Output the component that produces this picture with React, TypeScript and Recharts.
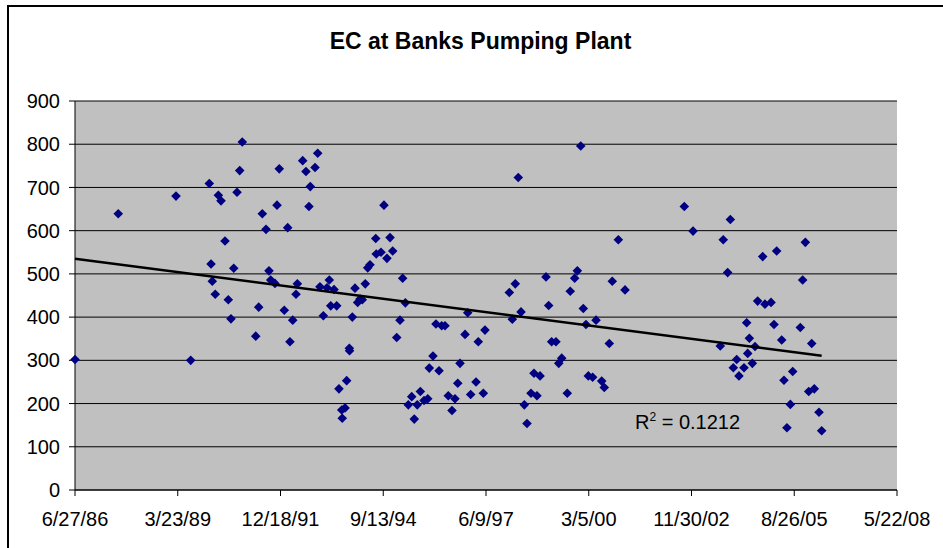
import { ScatterChart, Scatter, XAxis, YAxis, CartesianGrid } from "recharts"

// sample dates as Excel day serials (31590 = 6/27/86)
const sampleDates = [
  31590, 32011, 32573, 32716, 32897, 32914, 32926, 32955, 32985, 33011,
  33050, 33082, 33108, 33135, 33167, 33193, 33218, 33349, 33378, 33413,
  33449, 33478, 33495, 33536, 33556, 33578, 33627, 33660, 33682, 33709,
  33741, 33754, 33806, 33838, 33867, 33880, 33926, 33952, 33974, 34007,
  34043, 34065, 34079, 34111, 34137, 34159, 34186, 34191, 34218, 34234,
  34260, 34262, 34289, 34315, 34341, 34364, 34386, 34415, 34439, 34461,
  34517, 34522, 34568, 34597, 34626, 34656, 34682, 34721, 34753, 34779,
  34805, 34834, 34867, 34892, 34921, 34951, 34987, 35023, 35038, 35074,
  35103, 35133, 35159, 35191, 35223, 35259, 35288, 35315, 35337, 35386,
  35412, 35441, 35493, 35515, 35564, 35580, 35817, 35846, 35875, 35904,
  35931, 35963, 35989, 36028, 36057, 36086, 36116, 36174, 36200, 36229,
  36271, 36298, 36327, 36381, 36410, 36453, 36479, 36512, 36537, 36563,
  36586, 36628, 36661, 36716, 36741, 36790, 36819, 36878, 36943, 37520,
  37605, 37870, 37899, 37942, 37968, 37997, 38030, 38052, 38101, 38127,
  38137, 38153, 38182, 38208, 38234, 38283, 38305, 38364, 38393, 38419,
  38468, 38490, 38519, 38552, 38575, 38649, 38672, 38698, 38731, 38760,
  38785, 38831, 38857,
]

const ecValues = [
  302, 639, 680, 300, 709, 523, 483, 453, 682, 669,
  576, 440, 396, 513, 689, 739, 805, 356, 423, 639,
  603, 507, 486, 478, 659, 743, 416, 607, 343, 393,
  453, 477, 762, 737, 656, 702, 746, 779, 470, 403,
  468, 486, 426, 464, 426, 234, 185, 166, 190, 253,
  328, 322, 400, 467, 434, 442, 440, 477, 514, 521,
  582, 546, 550, 659, 536, 584, 553, 353, 393, 490,
  433, 197, 216, 164, 197, 228, 207, 211, 282, 310,
  384, 276, 380, 380, 218, 184, 211, 247, 293, 360,
  410, 221, 250, 343, 224, 370, 457, 395, 477, 723,
  412, 197, 154, 224, 270, 218, 264, 493, 427, 343,
  343, 293, 305, 224, 460, 490, 507, 796, 420, 383,
  264, 261, 393, 252, 237, 339, 483, 579, 463, 656,
  599, 333, 579, 503, 626, 283, 302, 264, 283, 387,
  316, 351, 293, 332, 437, 540, 430, 434, 383, 553,
  347, 254, 144, 198, 274, 376, 486, 573, 228, 339,
  234, 180, 137,
]

const xTicks = [31590, 32590, 33590, 34590, 35590, 36590, 37590, 38590, 39590]
const xTickLabels = ["6/27/86", "3/23/89", "12/18/91", "9/13/94", "6/9/97", "3/5/00", "11/30/02", "8/26/05", "5/22/08"]
const yTicks = [0, 100, 200, 300, 400, 500, 600, 700, 800, 900]

const points = sampleDates.map((d, i) => ({ date: d, ec: ecValues[i] }))

// linear least-squares trendline over the sample range
function trendline() {
  const n = points.length
  const mx = points.reduce((s, p) => s + p.date, 0) / n
  const my = points.reduce((s, p) => s + p.ec, 0) / n
  let sxy = 0
  let sxx = 0
  points.forEach((p) => {
    sxy += (p.date - mx) * (p.ec - my)
    sxx += (p.date - mx) * (p.date - mx)
  })
  const slope = sxy / sxx
  const x0 = Math.min(...sampleDates)
  const x1 = Math.max(...sampleDates)
  return [
    { date: x0, ec: my + slope * (x0 - mx) },
    { date: x1, ec: my + slope * (x1 - mx) },
  ]
}

const trend = trendline()

const FONT = "'Liberation Sans', Arial, sans-serif"

const Diamond = (props: any) => {
  const { cx, cy } = props
  const r = 4.8
  return (
    <polygon
      points={`${cx},${cy - r} ${cx + r},${cy} ${cx},${cy + r} ${cx - r},${cy}`}
      fill="#000080"
    />
  )
}

export default function App() {
  return (
    <div
      style={{
        position: "fixed",
        left: 0,
        top: 0,
        width: 943,
        height: 548,
        overflow: "hidden",
        background: "#fff",
        fontFamily: FONT,
      }}
    >
      <div style={{ position: "absolute", left: 7, top: 5, width: 1000, height: 1000, border: "2px solid #000" }} />
      <div
        style={{
          position: "absolute",
          left: 0,
          width: 961,
          top: 30,
          textAlign: "center",
          fontSize: 23,
          lineHeight: "23px",
          fontWeight: "bold",
          color: "#000",
        }}
      >
        EC at Banks Pumping Plant
      </div>
      <div style={{ position: "absolute", left: 0, top: 0 }}>
        <ScatterChart width={943} height={548} margin={{ top: 101, right: 46, bottom: 0, left: 0 }}>
          <CartesianGrid vertical={false} stroke="#000" fill="#C0C0C0" />
          <XAxis
            dataKey="date"
            type="number"
            domain={[31590, 39590]}
            ticks={xTicks}
            interval={0}
            tickFormatter={(v: number) => xTickLabels[xTicks.indexOf(v)]}
            tick={{ fill: "#000", fontSize: 20, fontFamily: FONT }}
            tickLine={{ stroke: "#000" }}
            axisLine={{ stroke: "#000" }}
            tickSize={6}
            tickMargin={16}
            height={58}
          />
          <XAxis
            xAxisId="top"
            orientation="top"
            type="number"
            domain={[31590, 39590]}
            tick={false}
            tickLine={false}
            axisLine={{ stroke: "#808080", strokeWidth: 2 }}
            height={0}
          />
          <YAxis
            dataKey="ec"
            type="number"
            domain={[0, 900]}
            ticks={yTicks}
            interval={0}
            tick={{ fill: "#000", fontSize: 20, fontFamily: FONT }}
            tickLine={{ stroke: "#000" }}
            axisLine={{ stroke: "#000" }}
            tickSize={6}
            tickMargin={9}
            width={75}
          />
          <YAxis
            yAxisId="right"
            orientation="right"
            type="number"
            domain={[0, 900]}
            tick={false}
            tickLine={false}
            axisLine={{ stroke: "#808080", strokeWidth: 2 }}
            width={0}
          />
          <Scatter data={points} shape={<Diamond />} isAnimationActive={false} />
          <Scatter
            data={trend}
            fill="#000"
            line={{ stroke: "#000", strokeWidth: 2.5 }}
            shape={() => <g />}
            isAnimationActive={false}
          />
        </ScatterChart>
      </div>
      <div
        style={{
          position: "absolute",
          left: 635,
          top: 412,
          fontSize: 20,
          lineHeight: "20px",
          color: "#000",
          whiteSpace: "nowrap",
        }}
      >
        R<sup style={{ fontSize: 12, verticalAlign: "top", position: "relative", top: -5 }}>2</sup> = 0.1212
      </div>
    </div>
  )
}
